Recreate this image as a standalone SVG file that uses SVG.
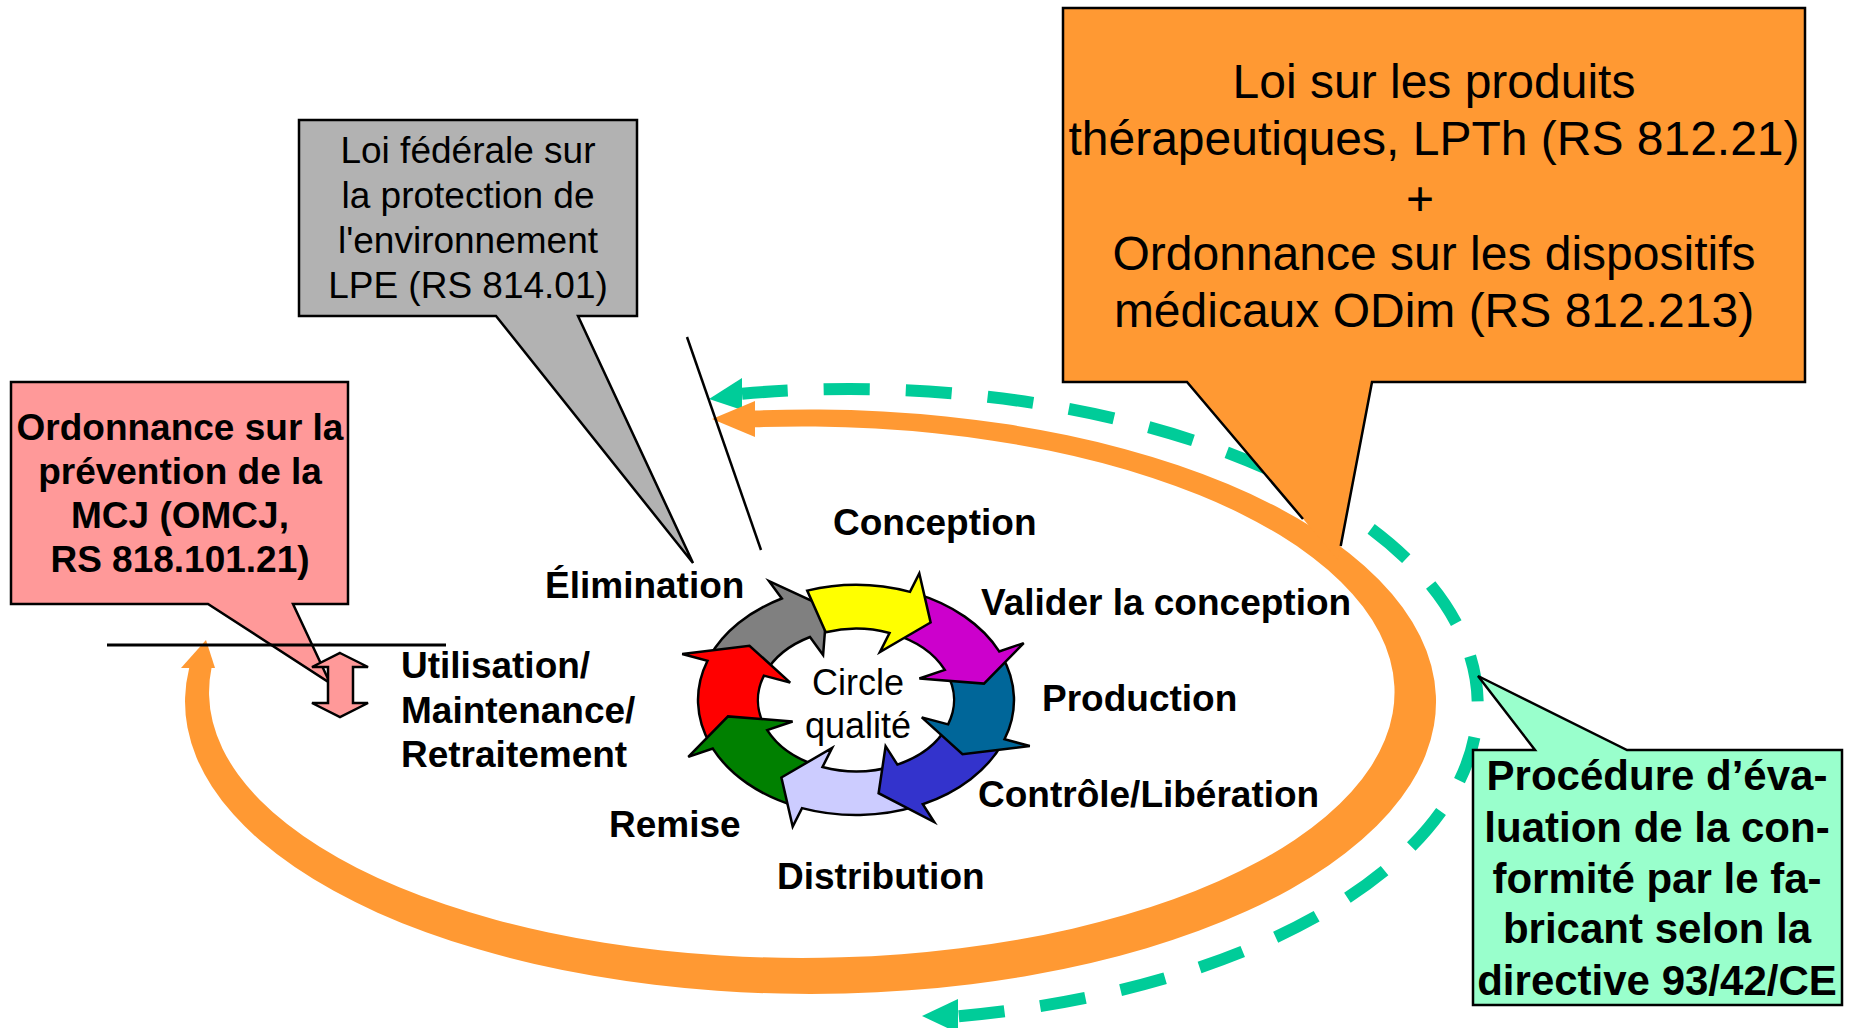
<svg xmlns="http://www.w3.org/2000/svg" width="1851" height="1028" viewBox="0 0 1851 1028">
<style>
  .box { stroke: #000; stroke-width: 2.5; stroke-linejoin: miter; }
  .t { font-family: "Liberation Sans", Arial, sans-serif; fill: #000; }
  .b { font-weight: bold; }
  .c { text-anchor: middle; }
  .seg { stroke: #000; stroke-width: 2.5; stroke-linejoin: miter; }
  .lbl { font-family: "Liberation Sans", Arial, sans-serif; font-weight: bold; font-size: 37px; fill: #000; }
</style>
<rect width="1851" height="1028" fill="#fff"/>

<g id="connectors">
  <g id="conformity-flow">
    <path d="M 742 393.7 A 628 316 0 0 1 958 1016.3" fill="none" stroke="#00CC99" stroke-width="12" stroke-dasharray="46 36"/>
    <polygon points="709,399 742,378 742,410" fill="#00CC99"/>
    <polygon points="922,1016 958,999 958,1033" fill="#00CC99"/>
  </g>
  <g id="lpth-cycle">
    <path d="M 755 410.6 A 625.5 292.25 0 1 1 189.2 668 L 211.5 668 A 592.75 265.75 0 1 0 755 427.3 Z" fill="#FF9933"/>
    <polygon points="712,419 755,401 755,437" fill="#FF9933"/>
    <polygon points="181,668 206,640 215,668" fill="#FF9933"/>
  </g>
</g>

<g id="callout-lpth">
  <path d="M 1063 8 H 1805 V 382 H 1372 L 1338 560 L 1187 382 H 1063 Z" fill="#FF9933"/>
  <path d="M 1303 519 L 1187 382 H 1063 V 8 H 1805 V 382 H 1372 L 1340.7 546" fill="none" stroke="#000" stroke-width="2.5"/>
  <text class="t c" font-size="48" x="1434" y="98">Loi sur les produits</text>
  <text class="t c" font-size="48" x="1434" y="155">thérapeutiques, LPTh (RS 812.21)</text>
  <text class="t c" font-size="48" x="1420" y="215">+</text>
  <text class="t c" font-size="48" x="1434" y="270">Ordonnance sur les dispositifs</text>
  <text class="t c" font-size="48" x="1434" y="327">médicaux ODim (RS 812.213)</text>
</g>

<g id="callout-lpe">
  <path class="box" d="M 299 120 H 637 V 316 H 578 L 693 563 L 496 316 H 299 Z" fill="#B2B2B2"/>
  <text class="t c" font-size="37" x="468" y="163">Loi fédérale sur</text>
  <text class="t c" font-size="37" x="468" y="208">la protection de</text>
  <text class="t c" font-size="37" x="468" y="253">l'environnement</text>
  <text class="t c" font-size="37" x="468" y="298">LPE (RS 814.01)</text>
</g>

<g id="callout-omcj">
  <path class="box" d="M 11 382 H 348 V 604 H 293 L 330 683 L 208 604 H 11 Z" fill="#FF9999"/>
  <text class="t b c" font-size="37" x="180" y="440">Ordonnance sur la</text>
  <text class="t b c" font-size="37" x="180" y="484">prévention de la</text>
  <text class="t b c" font-size="37" x="180" y="528">MCJ (OMCJ,</text>
  <text class="t b c" font-size="37" x="180" y="572">RS 818.101.21)</text>
</g>

<g id="callout-conformite">
  <path class="box" d="M 1473 750 H 1535 L 1478 676 L 1627 750 H 1842 V 1005 H 1473 Z" fill="#99FFCC"/>
  <text class="t b c" font-size="42" x="1657" y="790">Procédure d’éva-</text>
  <text class="t b c" font-size="42" x="1657" y="842">luation de la con-</text>
  <text class="t b c" font-size="42" x="1657" y="893">formité par le fa-</text>
  <text class="t b c" font-size="42" x="1657" y="943">bricant selon la</text>
  <text class="t b c" font-size="42" x="1657" y="995">directive 93/42/CE</text>
</g>

<g id="boundaries">
  <line x1="107" y1="645" x2="446" y2="645" stroke="#000" stroke-width="3"/>
  <line x1="687" y1="337" x2="761" y2="550" stroke="#000" stroke-width="2.5"/>
</g>

<g id="use-arrow">
  <path class="seg" d="M 340 653 L 368 667 L 353 667 L 353 703 L 368 703 L 340 717 L 312 703 L 328 703 L 328 667 L 312 667 Z" fill="#FF9999"/>
</g>

<g id="quality-circle">
  <path id="q-gray" class="seg" fill="#808080" d="M 709.5 656.9 A 158 115 0 0 1 781.8 598.5 L 769.1 581.2 L 826.8 607.8 L 823.1 655.0 L 810.0 637.0 A 98 71.3 0 0 0 765.1 673.3 Z"/>
  <path id="q-red" class="seg" fill="#FF0000" d="M 710.6 744.9 A 158 115 0 0 1 707.5 660.7 L 682.2 654.0 L 749.5 645.7 L 790.2 682.6 L 763.9 675.6 A 98 71.3 0 0 0 765.8 727.9 Z"/>
  <path id="q-green" class="seg" fill="#008000" d="M 796.8 806.6 A 158 115 0 0 1 712.8 748.6 L 688.3 756.9 L 728.0 716.4 L 792.6 721.5 L 767.2 730.1 A 98 71.3 0 0 0 819.3 766.1 Z"/>
  <path id="q-lavender" class="seg" fill="#CCCCFF" d="M 917.7 805.9 A 158 115 0 0 1 802.0 808.1 L 792.7 826.5 L 781.4 777.5 L 832.1 747.9 L 822.5 767.0 A 98 71.3 0 0 0 894.3 765.7 Z"/>
  <path id="q-blue" class="seg" fill="#3333CC" d="M 1002.5 743.1 A 158 115 0 0 1 922.8 804.2 L 934.2 822.0 L 878.6 793.2 L 885.6 746.2 L 897.4 764.6 A 98 71.3 0 0 0 946.9 726.7 Z"/>
  <path id="q-teal" class="seg" fill="#006699" d="M 1001.4 655.1 A 158 115 0 0 1 1004.5 739.3 L 1029.8 746.0 L 962.5 754.3 L 921.8 717.4 L 948.1 724.4 A 98 71.3 0 0 0 946.2 672.1 Z"/>
  <path id="q-magenta" class="seg" fill="#CC00CC" d="M 915.2 593.4 A 158 115 0 0 1 999.2 651.4 L 1023.7 643.1 L 984.0 683.6 L 919.4 678.5 L 944.8 669.9 A 98 71.3 0 0 0 892.7 633.9 Z"/>
  <path id="q-yellow" class="seg" fill="#FFFF00" d="M 807.2 590.6 A 158 115 0 0 1 910.0 591.9 L 919.3 573.5 L 930.6 622.5 L 879.9 652.1 L 889.5 633.0 A 98 71.3 0 0 0 825.7 632.2 Z"/>
  <text class="t c" font-size="36" x="858" y="695">Circle</text>
  <text class="t c" font-size="36" x="858" y="738">qualité</text>
</g>

<g id="stage-labels">
  <text class="lbl" x="833" y="535">Conception</text>
  <text class="lbl" x="981" y="615">Valider la conception</text>
  <text class="lbl" x="1042" y="711">Production</text>
  <text class="lbl" x="978" y="807">Contrôle/Libération</text>
  <text class="lbl" x="777" y="889">Distribution</text>
  <text class="lbl" x="609" y="837">Remise</text>
  <text class="lbl" x="545" y="598">Élimination</text>
  <text class="lbl" x="401" y="678">Utilisation/</text>
  <text class="lbl" x="401" y="723">Maintenance/</text>
  <text class="lbl" x="401" y="767">Retraitement</text>
</g>
</svg>
